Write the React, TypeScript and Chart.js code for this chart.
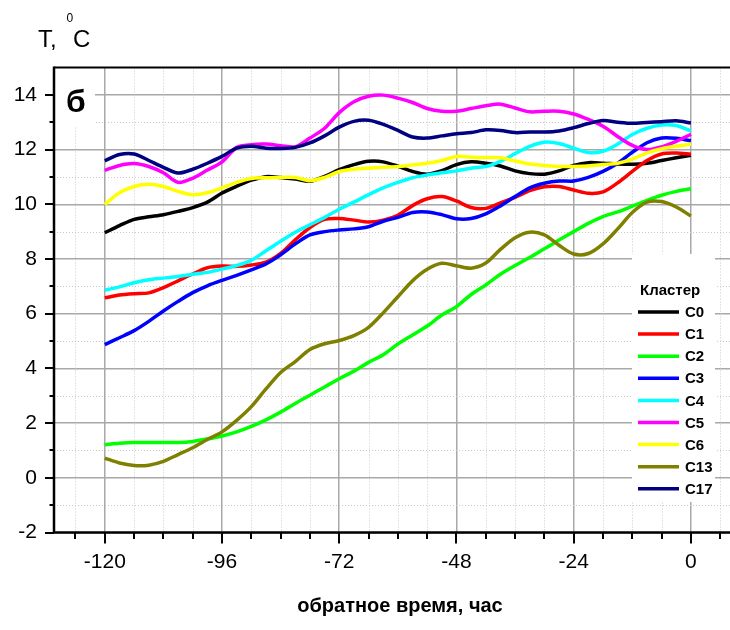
import React, { useEffect, useRef } from "react";
import { Chart, registerables } from "chart.js";

Chart.register(...registerables);

// ---- data ----
const hours = [
  -120, -117, -114, -111, -108, -105, -102, -99, -96, -93, -90, -87, -84, -81,
  -78, -75, -72, -69, -66, -63, -60, -57, -54, -51, -48, -45, -42, -39, -36,
  -33, -30, -27, -24, -21, -18, -15, -12, -9, -6, -3, 0,
];

const c0 = [8.96, 9.22, 9.45, 9.54, 9.62, 9.74, 9.88, 10.08, 10.41, 10.66, 10.88, 11.01, 10.98, 10.92, 10.84, 11.02, 11.27, 11.45, 11.57, 11.55, 11.39, 11.2, 11.1, 11.23, 11.45, 11.55, 11.5, 11.4, 11.22, 11.12, 11.1, 11.22, 11.42, 11.52, 11.5, 11.47, 11.46, 11.5, 11.6, 11.7, 11.79];
const c1 = [6.58, 6.68, 6.73, 6.76, 6.95, 7.2, 7.45, 7.68, 7.74, 7.73, 7.78, 7.88, 8.2, 8.7, 9.15, 9.45, 9.48, 9.42, 9.35, 9.42, 9.6, 9.95, 10.2, 10.28, 10.12, 9.88, 9.85, 10.05, 10.25, 10.5, 10.64, 10.65, 10.52, 10.4, 10.45, 10.78, 11.2, 11.6, 11.84, 11.87, 11.83];
const c2 = [1.21, 1.26, 1.29, 1.29, 1.29, 1.29, 1.33, 1.42, 1.53, 1.68, 1.88, 2.12, 2.4, 2.72, 3.02, 3.32, 3.62, 3.9, 4.22, 4.5, 4.89, 5.22, 5.55, 5.95, 6.26, 6.7, 7.05, 7.44, 7.76, 8.05, 8.37, 8.69, 9.0, 9.3, 9.55, 9.72, 9.93, 10.14, 10.33, 10.47, 10.57];
const c3 = [4.87, 5.12, 5.38, 5.72, 6.1, 6.45, 6.77, 7.02, 7.22, 7.4, 7.6, 7.82, 8.15, 8.55, 8.88, 9.0, 9.06, 9.1, 9.18, 9.38, 9.52, 9.7, 9.72, 9.62, 9.47, 9.48, 9.65, 9.94, 10.28, 10.6, 10.77, 10.85, 10.85, 10.98, 11.2, 11.5, 11.9, 12.25, 12.42, 12.41, 12.32];
const c4 = [6.86, 6.98, 7.13, 7.24, 7.3, 7.36, 7.44, 7.51, 7.63, 7.76, 7.95, 8.3, 8.65, 8.98, 9.25, 9.52, 9.82, 10.08, 10.35, 10.6, 10.8, 10.97, 11.07, 11.15, 11.22, 11.32, 11.38, 11.57, 11.85, 12.12, 12.27, 12.22, 12.05, 11.89, 11.94, 12.2, 12.55, 12.78, 12.9, 12.88, 12.68];
const c5 = [11.24, 11.42, 11.49, 11.38, 11.15, 10.8, 10.95, 11.25, 11.55, 12.08, 12.18, 12.2, 12.14, 12.1, 12.42, 12.78, 13.35, 13.75, 13.95, 13.99, 13.88, 13.72, 13.5, 13.4, 13.4, 13.5, 13.6, 13.66, 13.52, 13.38, 13.4, 13.4, 13.3, 13.1, 12.85, 12.48, 12.15, 12.0, 12.1, 12.3, 12.56];
const c6 = [10.0, 10.42, 10.65, 10.73, 10.65, 10.47, 10.35, 10.42, 10.6, 10.8, 10.94, 10.97, 10.98, 10.98, 10.86, 10.98, 11.2, 11.28, 11.32, 11.35, 11.38, 11.44, 11.5, 11.6, 11.75, 11.72, 11.71, 11.7, 11.58, 11.47, 11.42, 11.38, 11.38, 11.4, 11.45, 11.5, 11.65, 11.88, 12.03, 12.12, 12.2];
const c13 = [0.72, 0.54, 0.45, 0.46, 0.6, 0.85, 1.1, 1.4, 1.68, 2.1, 2.6, 3.25, 3.85, 4.25, 4.69, 4.9, 5.02, 5.2, 5.5, 6.03, 6.62, 7.2, 7.62, 7.84, 7.75, 7.66, 7.85, 8.35, 8.78, 8.98, 8.88, 8.5, 8.18, 8.2, 8.55, 9.1, 9.7, 10.08, 10.1, 9.9, 9.57];
const c17 = [11.59, 11.82, 11.84, 11.6, 11.35, 11.14, 11.28, 11.5, 11.75, 12.05, 12.12, 12.05, 12.04, 12.08, 12.24, 12.5, 12.82, 13.03, 13.07, 12.92, 12.7, 12.46, 12.42, 12.5, 12.58, 12.62, 12.72, 12.7, 12.62, 12.64, 12.64, 12.68, 12.8, 12.95, 13.06, 13.0, 12.96, 12.99, 13.02, 13.05, 12.97];

const seriesNames = ["C0", "C1", "C2", "C3", "C4", "C5", "C6", "C13", "C17"];
const seriesValues = [c0, c1, c2, c3, c4, c5, c6, c13, c17];
const seriesColors = ["#000000", "#ff0000", "#00ff00", "#0000ff", "#00ffff", "#ff00ff", "#ffff00", "#808000", "#000080"];

const xTicks = [-126, -120, -114, -108, -102, -96, -90, -84, -78, -72, -66, -60, -54, -48, -42, -36, -30, -24, -18, -12, -6, 0, 6];
const yTicks = [-2, -1, 0, 1, 2, 3, 4, 5, 6, 7, 8, 9, 10, 11, 12, 13, 14];
const xMin = -130.4;
const xMax = 8.0;
const yMin = -2;
const yMax = 15;

const legendTitle = "Кластер";
const xTitle = "обратное время, час";
const panelLabel = "б";

const FONT = "'Liberation Sans', Arial, sans-serif";

const isMajorX = (v: number) => v % 24 === 0;
const isMajorY = (v: number) => v % 2 === 0;

const decorPlugin = {
  id: "decor",
  beforeDatasetsDraw(chart: any) {
    const { ctx, chartArea: ca, scales } = chart;
    const xs = scales.x;
    const ys = scales.y;
    ctx.save();
    // minor dotted grid
    ctx.strokeStyle = "#c8c8c8";
    ctx.lineWidth = 1;
    ctx.setLineDash([1, 2]);
    for (const v of xTicks) {
      if (isMajorX(v)) continue;
      const px = Math.round(xs.getPixelForValue(v)) + 0.5;
      ctx.beginPath();
      ctx.moveTo(px, ca.top);
      ctx.lineTo(px, ca.bottom);
      ctx.stroke();
    }
    for (const v of yTicks) {
      if (isMajorY(v)) continue;
      const py = Math.round(ys.getPixelForValue(v)) + 0.5;
      ctx.beginPath();
      ctx.moveTo(ca.left, py);
      ctx.lineTo(ca.right, py);
      ctx.stroke();
    }
    ctx.setLineDash([]);
    // white box behind panel label
    ctx.fillStyle = "#ffffff";
    ctx.fillRect(ca.left + 1, ca.top + 1, 40, 58);
    ctx.restore();
  },
  afterDatasetsDraw(chart: any) {
    const { ctx, chartArea: ca, scales } = chart;
    const xs = scales.x;
    const ys = scales.y;
    ctx.save();

    // legend box
    const lx = 632;
    const ly = 254;
    ctx.fillStyle = "#ffffff";
    ctx.fillRect(lx, ly, 83, 248);
    ctx.fillStyle = "#000000";
    ctx.textBaseline = "middle";
    ctx.textAlign = "left";
    ctx.font = `bold 15px ${FONT}`;
    ctx.fillText(legendTitle, 640, 291);
    chart.data.datasets.forEach((ds: any, i: number) => {
      const yy = 312 + i * 22.1;
      ctx.strokeStyle = ds.borderColor;
      ctx.lineWidth = 3.5;
      ctx.beginPath();
      ctx.moveTo(638, yy);
      ctx.lineTo(679, yy);
      ctx.stroke();
      ctx.fillStyle = "#000000";
      ctx.font = `bold 15px ${FONT}`;
      ctx.fillText(ds.label, 685, yy + 1);
    });

    // frame lines
    ctx.strokeStyle = "#000000";
    ctx.lineWidth = 2;
    ctx.beginPath();
    ctx.moveTo(ca.left, ca.top);
    ctx.lineTo(ca.right, ca.top);
    ctx.stroke();
    ctx.lineWidth = 2.5;
    ctx.beginPath();
    ctx.moveTo(ca.left, ca.top - 1);
    ctx.lineTo(ca.left, ca.bottom + 1);
    ctx.moveTo(ca.left - 1, ca.bottom);
    ctx.lineTo(ca.right, ca.bottom);
    ctx.stroke();

    // tick marks
    ctx.lineWidth = 2;
    for (const v of xTicks) {
      const px = Math.round(xs.getPixelForValue(v));
      const len = isMajorX(v) ? 11 : 6.5;
      ctx.beginPath();
      ctx.moveTo(px, ca.bottom);
      ctx.lineTo(px, ca.bottom + len);
      ctx.stroke();
    }
    for (const v of yTicks) {
      const py = Math.round(ys.getPixelForValue(v));
      const len = isMajorY(v) ? 9 : 4.5;
      ctx.beginPath();
      ctx.moveTo(ca.left, py);
      ctx.lineTo(ca.left - len, py);
      ctx.stroke();
    }

    // panel label
    ctx.fillStyle = "#000000";
    ctx.textAlign = "left";
    ctx.textBaseline = "alphabetic";
    ctx.font = `bold 32px ${FONT}`;
    ctx.fillText(panelLabel, 66, 112);

    // y-axis title "T, °C"
    ctx.font = `24px ${FONT}`;
    ctx.fillText("T,", 38, 47);
    ctx.fillText("C", 73, 47);
    ctx.font = `12px ${FONT}`;
    ctx.fillText("0", 66.5, 22);

    // x-axis title
    ctx.font = `bold 20px ${FONT}`;
    ctx.textAlign = "center";
    ctx.textBaseline = "middle";
    ctx.fillText(xTitle, 400, 606);

    ctx.restore();
  },
};

export default function App() {
  const canvasRef = useRef<HTMLCanvasElement | null>(null);

  useEffect(() => {
    const canvas = canvasRef.current;
    if (!canvas) return;
    const n = seriesNames.length;
    const chart = new Chart(canvas, {
      type: "line",
      data: {
        datasets: seriesNames.map((name, i) => ({
          label: name,
          data: hours.map((h, j) => ({ x: h, y: seriesValues[i][j] })),
          borderColor: seriesColors[i],
          backgroundColor: seriesColors[i],
          borderWidth: 3.5,
          pointRadius: 0,
          tension: 0.3,
          fill: false,
          order: n - i,
        })),
      },
      options: {
        animation: false,
        responsive: false,
        maintainAspectRatio: false,
        layout: { padding: { top: 67.5, left: 0, right: 0, bottom: 0 } },
        plugins: {
          legend: { display: false },
          tooltip: { enabled: false },
          title: { display: false },
        },
        scales: {
          x: {
            type: "linear",
            min: xMin,
            max: xMax,
            afterBuildTicks: (s: any) => {
              s.ticks = xTicks.map((v) => ({ value: v }));
            },
            afterFit: (s: any) => {
              s.height = 97.5;
              s.paddingLeft = 0;
              s.paddingRight = 0;
              s.paddingTop = 0;
              s.paddingBottom = 0;
            },
            border: { display: false },
            grid: {
              drawTicks: false,
              lineWidth: 1.5,
              color: (c: any) =>
                c.tick && isMajorX(c.tick.value) && c.tick.value !== xTicks[0] ? "#a8a8a8" : "rgba(0,0,0,0)",
            },
            ticks: {
              autoSkip: false,
              maxRotation: 0,
              padding: 17,
              color: "#000000",
              font: { family: FONT, size: 21 },
              callback: (v: any) => (isMajorX(Number(v)) ? String(Number(v)) : ""),
            },
          },
          y: {
            type: "linear",
            min: yMin,
            max: yMax,
            afterBuildTicks: (s: any) => {
              s.ticks = yTicks.map((v) => ({ value: v }));
            },
            afterFit: (s: any) => {
              s.width = 54;
              s.paddingTop = 0;
              s.paddingBottom = 0;
              s.paddingLeft = 0;
              s.paddingRight = 0;
            },
            border: { display: false },
            grid: {
              drawTicks: false,
              lineWidth: 1.5,
              color: (c: any) => (c.tick && isMajorY(c.tick.value) ? "#a8a8a8" : "rgba(0,0,0,0)"),
            },
            ticks: {
              autoSkip: false,
              padding: 17,
              color: "#000000",
              font: { family: FONT, size: 21 },
              callback: (v: any) => (isMajorY(Number(v)) ? String(Number(v)) : ""),
            },
          },
        },
      },
      plugins: [decorPlugin],
    } as any);
    return () => chart.destroy();
  }, []);

  return (
    <div style={{ position: "fixed", left: 0, top: 0, width: 730, height: 630, background: "#ffffff" }}>
      <canvas ref={canvasRef} width={730} height={630} style={{ width: 730, height: 630, display: "block" }} />
    </div>
  );
}
